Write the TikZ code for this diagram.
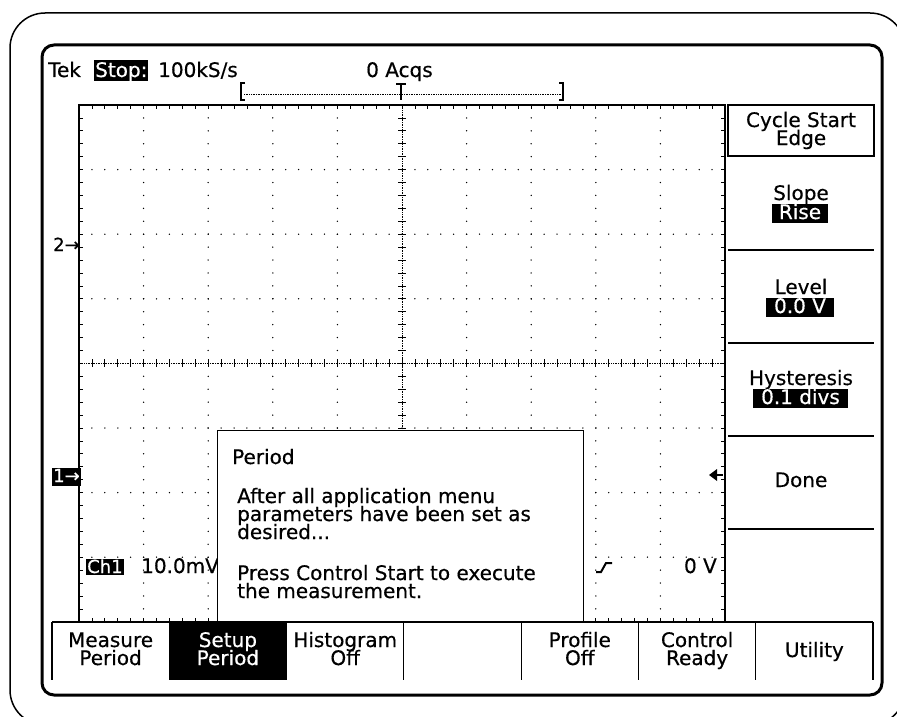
\documentclass[tikz,border=0pt]{standalone}
\usepackage{fontspec}
\setmainfont{DejaVu Sans}
\newfontfamily\tekfont{DejaVu Sans}[FakeBold=0.5]
\usetikzlibrary{positioning}
\AtBeginDocument{\lineskiplimit=-50pt}

\tikzset{
  scrfont/.style={font=\tekfont\fontsize{20}{18}\selectfont},
  scrtext/.style={scrfont, inner sep=0pt, anchor=base},
  menutext/.style={scrtext, align=center},
  invtext/.style={scrtext, fill=black, text=white, text height=14pt, text depth=3pt, inner ysep=1pt, inner xsep=7pt},
  gdot/.style={fill=black},
}

\begin{document}
\begin{tikzpicture}[x=1pt,y=-1pt]
\useasboundingbox (0,0) rectangle (897,717);
%outer bezel
\begin{scope}
\clip (0,0) rectangle (897,717);
\draw[line width=1.5pt, rounded corners=35pt] (10,13) rectangle (905,725);
\end{scope}
%screen
\draw[line width=3pt, rounded corners=12pt] (42,45) rectangle (882,695);

%graticule
\draw[line width=1.2pt] (79,621.8) -- (79,105) -- (725,105) -- (725,621.8);
  \foreach \i in {1,2,3,4,6,7,8,9}
  {
    \foreach \j in {1,...,39}
    {
		\fill[gdot] (79+\i*64.6,105+\j*12.92) circle (0.75pt);
	}
  }
  \foreach \j in {1,2,3,5,6,7}
  {
    \foreach \i in {1,...,49}
    {
		\fill[gdot] (79+\i*12.92,105+\j*64.6) circle (0.75pt);
	}
  }
%center lines
\draw[densely dotted, line width=0.7pt] (79,363.4) -- (725,363.4);
\draw[densely dotted, line width=0.7pt] (402,105) -- (402,621.8);
  \foreach \i in {1,...,49}
  {
    \draw[line width=0.7pt] (79+\i*12.92,359.4) -- ++(0,8);
    \draw[line width=0.7pt] (79+\i*12.92,105) -- ++(0,4);
    \draw[line width=0.7pt] (79+\i*12.92,621.8) -- ++(0,-4);
  }
  \foreach \j in {1,...,39}
  {
    \draw[line width=0.7pt] (398,105+\j*12.92) -- ++(8,0);
    \draw[line width=0.7pt] (79,105+\j*12.92) -- ++(4,0);
    \draw[line width=0.7pt] (725,105+\j*12.92) -- ++(-4,0);
  }

%status line
\node[scrtext, anchor=base west] (tek) at (48,77) {Tek};
\node[invtext, anchor=base west, inner xsep=1pt, text height=16pt] (stop) at (94,77) {Stop:};
\node[scrtext, anchor=base west] (rate) at (158,77) {100kS/s};
\node[scrtext, anchor=base west] (acqs) at (366,77) {0 Acqs};

%record view
\draw[densely dotted, line width=0.7pt] (244,94) -- (561,94);
\draw[line width=2pt] (245,83) -- (241,83) -- (241,100) -- (245,100);
\draw[line width=2pt] (559,83) -- (563,83) -- (563,100) -- (559,100);
\draw[line width=1.5pt] (396,84) -- (406,84) (401,84) -- (401,100);

%channel markers
\node[scrtext, font=\tekfont\fontsize{18}{18}\selectfont, anchor=base west] (ch2mark) at (53,251) {2→};
\node[invtext, font=\tekfont\fontsize{18}{18}\selectfont, anchor=base west, inner xsep=1pt, text height=13pt, text depth=3pt] (ch1mark) at (52,482) {1→};
\fill (709,475) -- (717,469) -- (717,481) -- cycle;
\draw[line width=1.8pt] (716,475) -- (723,475);

%readout
\node[invtext, font=\tekfont\fontsize{18}{18}\selectfont, anchor=base west, inner xsep=1pt, text height=13pt, text depth=1pt] (ch1) at (86,573) {Ch1};
\node[scrtext, anchor=base west] (volts) at (141,573) {10.0mV};
\draw[line width=2pt] (596,572) -- (601,572) -- (606,563) -- (612,563);
\node[scrtext, anchor=base east] (trigval) at (717,573) {0 V};

%message box
\draw[fill=white, line width=1pt] (217,430) rectangle (583,621.8);
\node[scrtext, anchor=base west] (ptitle) at (232,464) {Period};
\node[scrtext, anchor=base west, align=left] (pmsg) at (237,598) {After all application menu\\parameters have been set as\\desired...\\[23pt]Press Control Start to execute\\the measurement.};

%side menu
\draw[line width=1.2pt] (728,105) rectangle (874,156);
\foreach \y in {250,343,436,529}
  \draw[line width=1.2pt] (728,\y) -- (874,\y);
\node[menutext] (cyclestart) at (801,145) {Cycle Start\\Edge};
\node[menutext] (slope) at (801,200) {Slope};
\node[invtext] (rise) at (800,219) {Rise};
\node[menutext] (level) at (801,294) {Level};
\node[invtext, inner xsep=8pt] (levelval) at (800,313) {0.0 V};
\node[menutext] (hyst) at (801,385) {Hysteresis};
\node[invtext, inner xsep=8pt] (hystval) at (800.5,404) {0.1 divs};
\node[menutext] (done) at (801,487) {Done};

%bottom menu
\fill (169.3,622) rectangle (286.6,680);
\draw[line width=1.2pt] (52,622) -- (873,622);
\foreach \k in {0,...,7}
  \draw[line width=1.2pt] (52+\k*117.29,622) -- (52+\k*117.29,680);
\node[menutext] (measure) at (110.6,665) {Measure\\Period};
\node[menutext, text=white] (setup) at (227.9,665) {Setup\\Period};
\node[menutext] (histo) at (345.2,665) {Histogram\\Off};
\node[menutext] (profile) at (579.8,665) {Profile\\Off};
\node[menutext] (control) at (697.1,665) {Control\\Ready};
\node[menutext] (utility) at (814.4,657) {Utility};
\end{tikzpicture}
\end{document}
